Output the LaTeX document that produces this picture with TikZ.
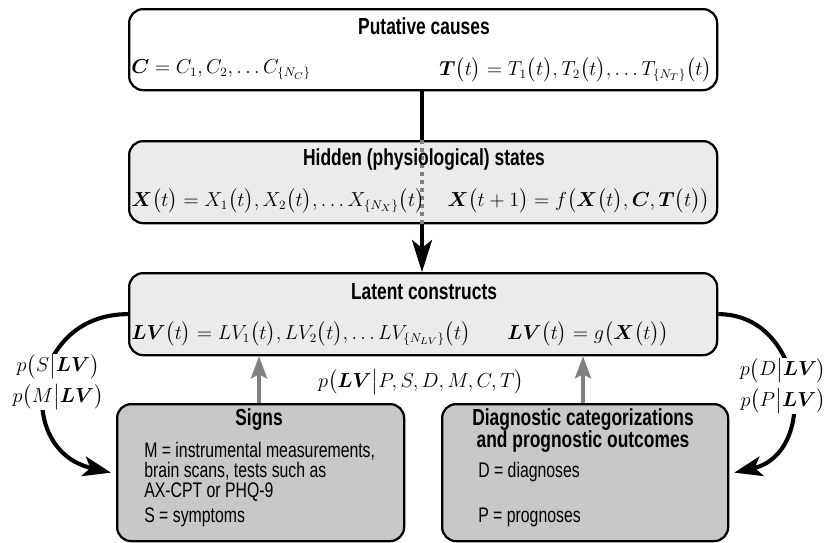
\documentclass[tikz,border=0pt]{standalone}
\usepackage{amsmath}
\usepackage{bm}
\usepackage[no-math]{fontspec}
\setmainfont{Liberation Sans}[FakeStretch=0.75]
\usetikzlibrary{arrows.meta,positioning}

\newdimen\px \px=0.025cm
\newcommand{\lb}{\bigl(}
\newcommand{\rb}{\bigr)}

\definecolor{lightpanel}{HTML}{EBEBEB}
\definecolor{darkpanel}{HTML}{C8C8C8}
\definecolor{arrowgray}{HTML}{808080}

\tikzset{
  panel/.style={draw=black, line width=1.6pt, rounded corners=0.35cm, anchor=north west, inner sep=0pt},
  heading/.style={font=\fontsize{16.5}{15.6}\selectfont\bfseries, inner sep=0pt, align=center},
  body/.style={font=\fontsize{15}{14}\selectfont, inner sep=0pt, align=left, anchor=west},
  eq/.style={font=\fontsize{13.5}{16}\selectfont, inner sep=0pt},
  prob/.style={font=\fontsize{15}{21.5}\selectfont, inner sep=0.5pt, fill=white, align=center},
  mainarrow/.style={line width=2.9pt, -{Stealth[length=0.8cm, width=0.5cm, inset=0.2cm]}},
  grayarrow/.style={draw=arrowgray, line width=2.9pt, -{Stealth[length=0.55cm, width=0.4cm, inset=0.1cm]}},
  bendarrow/.style={line width=2.9pt, -{Stealth[length=0.7cm, width=0.5cm, inset=0.175cm]}},
}

\begin{document}
\begin{tikzpicture}[x=0.025cm, y=-0.025cm]
\useasboundingbox (0,0) rectangle (834,542);
%%% the five panels
\node[panel, fill=white, minimum width=588\px, minimum height=81\px] (causes) at (128,8) {};
\node[panel, fill=lightpanel, minimum width=588\px, minimum height=82\px] (hidden) at (128,140) {};
\node[panel, fill=lightpanel, minimum width=588\px, minimum height=82\px] (latent) at (128,272) {};
\node[panel, fill=darkpanel, minimum width=287\px, minimum height=137\px] (signs) at (116,403) {};
\node[panel, fill=darkpanel, minimum width=286\px, minimum height=137\px] (diag) at (441,403) {};
%%% the spine from causes to latent constructs
\coordinate (spine) at (422,0);
\draw[line width=2.9pt] (causes.south -| spine) -- (hidden.north -| spine);
\draw[draw=arrowgray, line width=2.9pt, dash pattern=on 0.11cm off 0.09cm] (hidden.north -| spine) -- (hidden.south -| spine);
\draw[mainarrow] (hidden.south -| spine) -- (latent.north -| spine);
%%% panel headings
\node[heading] (causesTitle) at (424,26) {Putative causes};
\node[heading] (hiddenTitle) at (424,160) {Hidden (physiological) states};
\node[heading] (latentTitle) at (424,292) {Latent constructs};
\node[heading] (signsTitle) at (259,420) {Signs};
\node[heading] (diagTitle) at (583,431) {Diagnostic categorizations\\and prognostic outcomes};
%%% equations inside the panels
\node[eq, anchor=west] (eqC) at (131,70) {$\bm{C} = C_1, C_2, \ldots C_{\{N_C\}}$};
\node[eq, anchor=east] (eqT) at (712,70) {$\bm{T}\lb t\rb = T_{1}\lb t\rb, T_{2}\lb t\rb, \ldots T_{\{N_T\}}\lb t\rb$};
\node[eq, anchor=west] (eqX) at (131,201) {$\bm{X}\lb t\rb = X_{1}\lb t\rb, X_{2}\lb t\rb, \ldots X_{\{N_X\}}\lb t\rb$};
\node[eq, anchor=east] (eqXf) at (710,201) {$\bm{X}\lb t+1\rb = f\lb \bm{X}\lb t\rb, \bm{C}, \bm{T}\lb t\rb\rb$};
\node[eq, anchor=west] (eqLV) at (131,334) {$\bm{LV}\lb t\rb = LV_{1}\lb t\rb, LV_{2}\lb t\rb, \ldots LV_{\{N_{LV}\}}\lb t\rb$};
\node[eq, anchor=west] (eqLVg) at (507,334) {$\bm{LV}\lb t\rb = g\lb \bm{X}\lb t\rb\rb$};
%%% texts of the lower panels
\node[body] (signsM) at (144,472) {M = instrumental measurements,\\brain scans, tests such as\\AX-CPT or PHQ-9};
\node[body] (signsS) at (144,517) {S = symptoms};
\node[body] (diagD) at (478,472) {D = diagnoses};
\node[body] (diagP) at (478,517) {P = prognoses};
%%% gray arrows up to the latent constructs
\draw[grayarrow] (signs.north -| signsTitle) -- (latent.south -| signsTitle);
\draw[grayarrow] (diag.north -| diagTitle) -- (latent.south -| diagTitle);
\node[prob] (pLV) at (421,382) {$p\bigl(\bm{LV}\big|P,S,D,M,C,T\bigr)$};
%%% bent arrows down to the lower panels
\draw[bendarrow] (latent.west) to[out=180, in=167, looseness=1.6] ([xshift=-5\px]signs.west);
\draw[bendarrow] (latent.east) to[out=0, in=13, looseness=1.4] ([xshift=5\px]diag.east);
\node[prob] (pSM) at (58,382) {$p\bigl(S\big|\bm{LV}\bigr)$\\$p\bigl(M\big|\bm{LV}\bigr)$};
\node[prob] (pDP) at (783,386) {$p\bigl(D\big|\bm{LV}\bigr)$\\$p\bigl(P\big|\bm{LV}\bigr)$};
\end{tikzpicture}
\end{document}
